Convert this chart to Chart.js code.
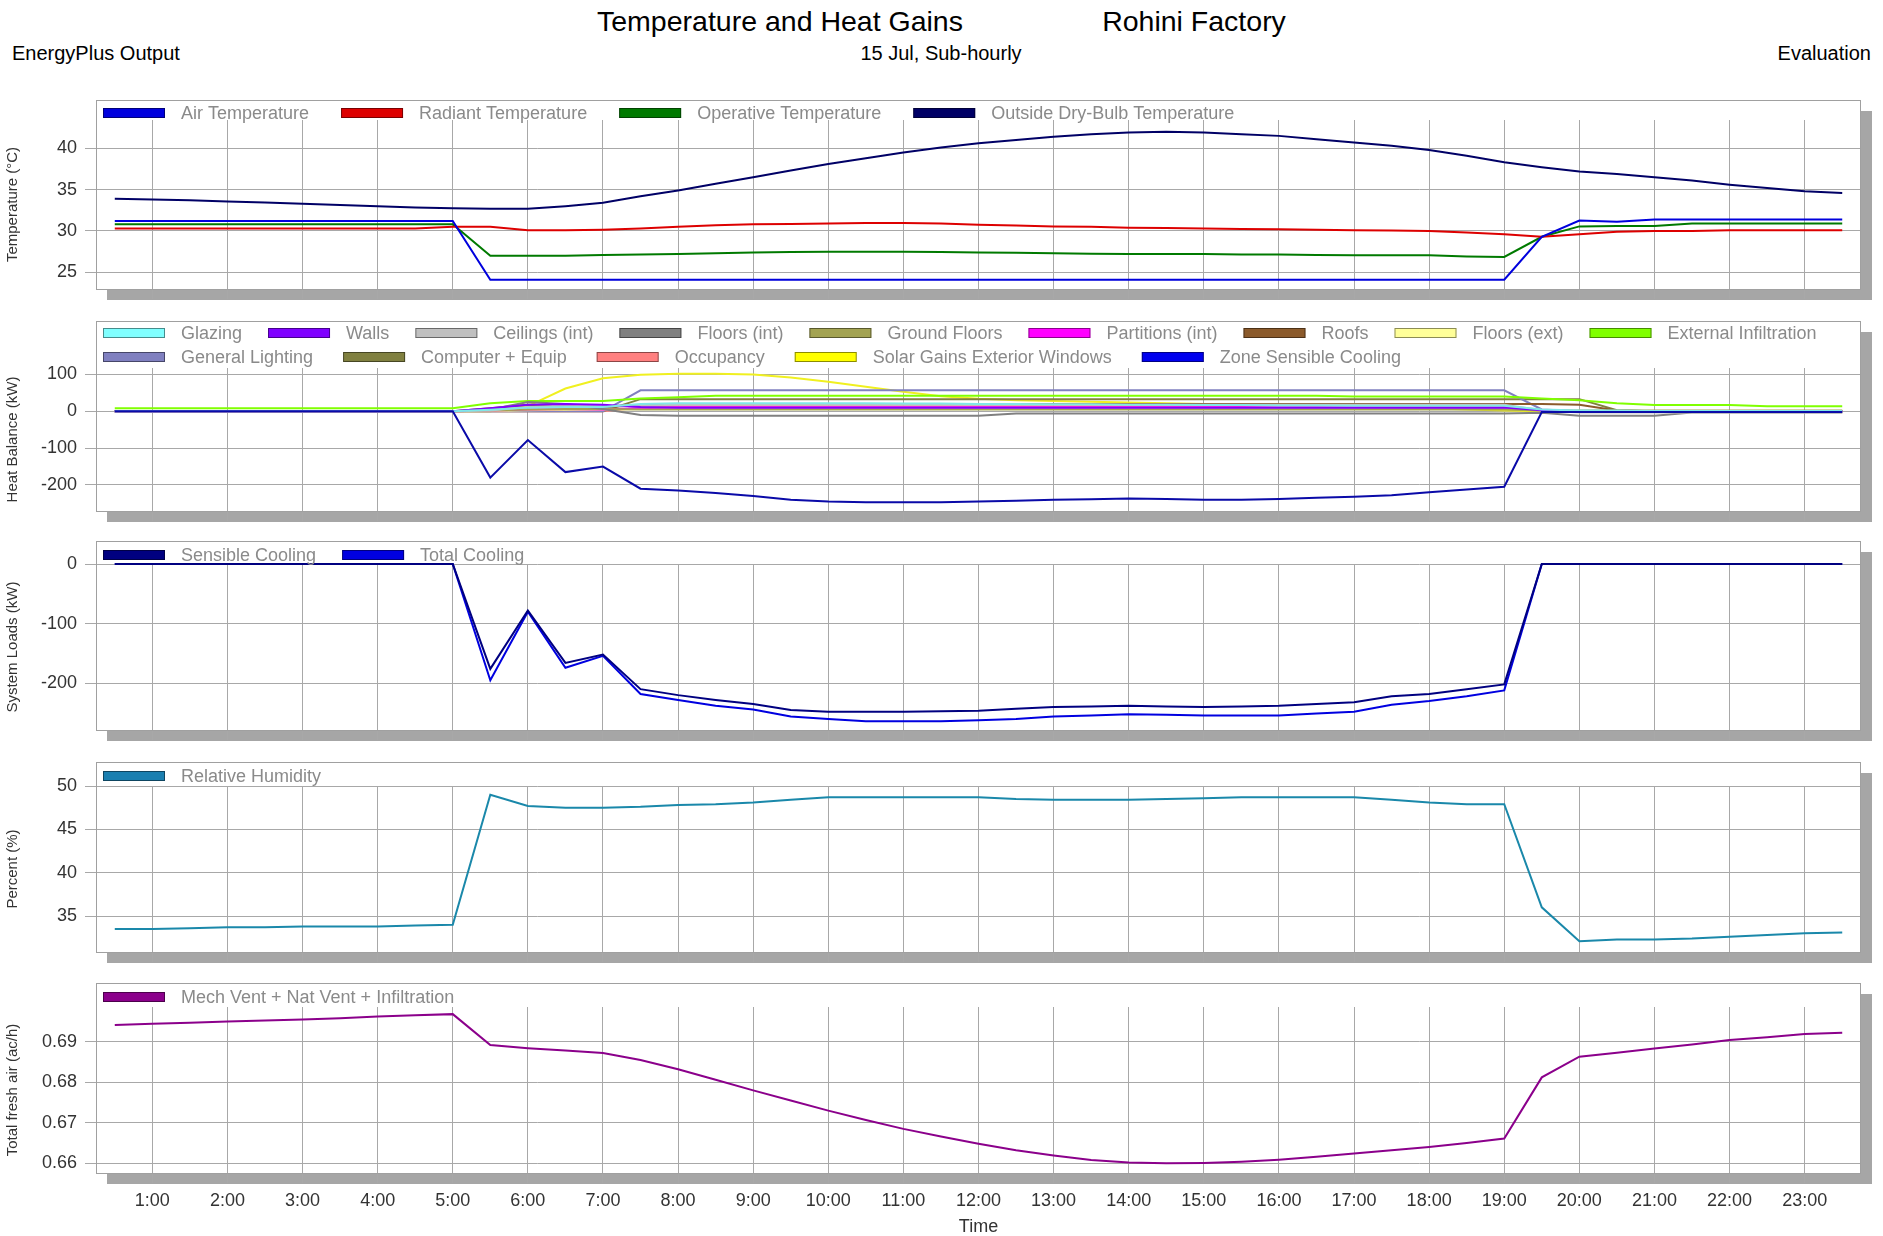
<!DOCTYPE html>
<html><head><meta charset="utf-8">
<script src="https://cdn.jsdelivr.net/npm/chart.js@4"></script>
<style>
html,body{margin:0;padding:0;background:#fff;}
body{width:1883px;height:1236px;overflow:hidden;position:relative;font-family:"Liberation Sans",Arial,sans-serif;}
.t{position:absolute;white-space:nowrap;color:#000;line-height:1;}
canvas{position:absolute;left:0;}
</style></head><body>
<div class="t" style="font-size:28.5px;left:780px;top:7px;transform:translateX(-50%)">Temperature and Heat Gains</div>
<div class="t" style="font-size:28.5px;left:1194px;top:7px;transform:translateX(-50%)">Rohini Factory</div>
<div class="t" style="font-size:20px;left:12px;top:43px;">EnergyPlus Output</div>
<div class="t" style="font-size:20px;left:941px;top:43px;transform:translateX(-50%)">15 Jul, Sub-hourly</div>
<div class="t" style="font-size:20px;right:12px;top:43px;">Evaluation</div>
<canvas id="p1"></canvas>
<canvas id="p2"></canvas>
<canvas id="p3"></canvas>
<canvas id="p4"></canvas>
<canvas id="p5"></canvas>
<script>
// ---------- DATA ----------
const hours = [0.5,1,1.5,2,2.5,3,3.5,4,4.5,5,5.5,6,6.5,7,7.5,8,8.5,9,9.5,10,10.5,11,11.5,12,12.5,13,13.5,14,14.5,15,15.5,16,16.5,17,17.5,18,18.5,19,19.5,20,20.5,21,21.5,22,22.5,23,23.5];

// Panel 1: temperatures (°C)
const airTemp = [31.2,31.2,31.2,31.2,31.2,31.2,31.2,31.2,31.2,31.2,
  24.1,24.1,24.1,24.1,24.1,24.1,24.1,24.1,24.1,24.1,24.1,24.1,24.1,24.1,24.1,24.1,24.1,24.1,24.1,24.1,24.1,24.1,24.1,24.1,24.1,24.1,24.1,24.1,
  29.3,31.25,31.1,31.4,31.4,31.4,31.4,31.4,31.4];
const radiantTemp = [30.3,30.3,30.3,30.3,30.3,30.3,30.3,30.3,30.3,30.5,
  30.5,30.1,30.1,30.15,30.3,30.5,30.7,30.8,30.85,30.9,30.95,30.95,30.9,30.75,30.65,30.55,30.5,30.4,30.35,30.3,30.25,30.2,30.15,30.1,30.05,30.0,29.8,29.6,
  29.3,29.6,29.9,30.0,30.0,30.1,30.1,30.1,30.1];
const operativeTemp = [30.8,30.8,30.8,30.8,30.8,30.8,30.8,30.8,30.8,30.8,
  27.0,27.0,27.0,27.1,27.15,27.2,27.3,27.4,27.45,27.5,27.5,27.5,27.45,27.4,27.35,27.3,27.25,27.2,27.2,27.2,27.15,27.15,27.1,27.05,27.05,27.05,26.9,26.85,
  29.3,30.55,30.6,30.6,30.9,30.9,30.9,30.9,30.9];
const outsideTemp = [33.9,33.8,33.7,33.55,33.45,33.3,33.15,33.0,32.85,32.75,
  32.7,32.7,33.0,33.4,34.2,34.9,35.7,36.5,37.3,38.1,38.8,39.5,40.1,40.6,41.0,41.4,41.7,41.9,42.0,41.9,41.7,41.5,41.1,40.7,40.3,39.8,39.1,38.3,
  37.7,37.2,36.9,36.5,36.1,35.6,35.2,34.8,34.6];

// Panel 2: heat balance (kW)
const glazing = [0,0,0,0,0,0,0,0,0,0, 4,10,12,12,20,22,22,22,22,22,22,21,21,20,20,19,19,18,18,17,17,16,16,15,15,15,15,15, 5,2,2,1,1,1,1,1,1];
const walls = [0,0,0,0,0,0,0,0,0,0, 8,18,20,18,12,10,10,10,10,10,10,10,10,10,10,10,10,10,10,10,10,10,10,10,10,10,10,10, 3,0,0,0,0,0,0,0,0];
const ceilingsInt = [0,0,0,0,0,0,0,0,0,0, 2,12,16,14,16,18,18,18,18,18,18,18,18,18,18,18,18,18,18,18,18,18,18,18,18,18,18,18, 3,-3,-3,-3,-3,-3,-3,-3,-3];
const floorsInt = [0,0,0,0,0,0,0,0,0,0, 5,25,20,6,-10,-12,-12,-12,-12,-12,-12,-12,-12,-12,-6,-6,-6,-6,-6,-6,-6,-6,-6,-6,-6,-6,-6,-6, -4,-12,-12,-12,-3,-3,-3,-3,-3];
const groundFloors = [0,0,0,0,0,0,0,0,0,0, 2,5,6,6,5,5,5,5,5,5,5,5,5,5,5,5,5,5,5,5,5,5,5,5,5,5,5,5, 2,2,2,2,2,2,2,2,2];
const partitionsInt = [0,0,0,0,0,0,0,0,0,0, 2,5,6,5,8,11,11,11,11,11,11,11,11,11,11,11,11,11,11,11,11,11,11,11,11,11,11,11, 2,0,0,0,0,0,0,0,0];
const roofs = [0,0,0,0,0,0,0,0,0,0, 8,18,14,12,16,20,20,20,20,20,20,20,20,20,20,20,20,20,20,20,20,20,20,20,20,20,20,20, 20,18,2,0,0,0,0,0,0];
const floorsExt = [0,0,0,0,0,0,0,0,0,0, 1,3,4,4,6,8,8,8,8,8,8,8,8,8,8,8,8,8,8,8,8,8,8,8,8,8,8,8, 2,0,0,0,0,0,0,0,0];
const extInfiltration = [8,8,8,8,8,8,8,8,8,8, 22,28,28,28,35,38,42,42,42,42,42,42,42,42,42,42,42,42,42,42,42,42,42,40,40,40,40,40, 35,30,22,17,17,17,14,14,14];
const generalLighting = [0,0,0,0,0,0,0,0,0,0,0,0,0,0, 57,57,57,57,57,57,57,57,57,57,57,57,57,57,57,57,57,57,57,57,57,57,57,57, 5,0,0,0,0,0,0,0,0];
const computerEquip = [0,0,0,0,0,0,0,0,0,0,0,0,0,0, 33,33,33,33,33,33,33,33,33,33,33,33,33,33,33,33,33,33,33,33,33,33,33,33,33,33, 3,0,0,0,0,0,0];
const occupancy = [0,0,0,0,0,0,0,0,0,0,0,0,0,0, 10,14,14,14,14,14,14,14,14,14,14,14,14,14,14,14,14,14,14,14,14,14,14,14, 2,0,0,0,0,0,0,0,0];
const solarGains = [0,0,0,0,0,0,0,0,0,0,0, 14,62,90,99,102,102,100,92,80,67,53,41,34,30,28,26,24,22,20,18,16,14,12,10,8,5,2, 0,0,0,0,0,0,0,0,0];
const zoneSensibleCooling = [0,0,0,0,0,0,0,0,0,0,
  -180,-78,-165,-150,-210,-215,-222,-230,-240,-245,-247,-247,-247,-245,-243,-240,-239,-237,-238,-240,-240,-238,-235,-232,-228,-220,-212,-205,
  -2,-2,-2,-2,-2,-2,-2,-2,-2];

// Panel 3: system loads (kW)
const sensibleCooling = [0,0,0,0,0,0,0,0,0,0,
  -176,-78,-166,-152,-210,-220,-228,-235,-245,-248,-248,-248,-247,-246,-243,-240,-239,-238,-239,-240,-239,-238,-235,-232,-222,-218,-210,-202,
  0,0,0,0,0,0,0,0,0];
const totalCooling = [0,0,0,0,0,0,0,0,0,0,
  -195,-80,-174,-154,-218,-228,-238,-244,-256,-260,-264,-264,-264,-262,-260,-256,-254,-252,-253,-254,-254,-254,-251,-248,-236,-230,-222,-212,
  0,0,0,0,0,0,0,0,0];

// Panel 4: relative humidity (%)
const relHumidity = [33.5,33.5,33.6,33.7,33.7,33.8,33.8,33.8,33.9,34.0,
  49.0,47.7,47.5,47.5,47.6,47.8,47.9,48.1,48.4,48.7,48.7,48.7,48.7,48.7,48.5,48.4,48.4,48.4,48.5,48.6,48.7,48.7,48.7,48.7,48.4,48.1,47.9,47.9,
  36.0,32.1,32.3,32.3,32.4,32.6,32.8,33.0,33.1];

// Panel 5: total fresh air (ac/h)
const freshAir = [0.6941,0.6944,0.6947,0.6950,0.6952,0.6955,0.6958,0.6962,0.6965,0.6968,
  0.6892,0.6884,0.6878,0.6872,0.6855,0.6832,0.6806,0.6780,0.6755,0.6730,0.6707,0.6685,0.6666,0.6648,0.6632,0.6619,0.6608,0.6602,0.6600,0.6601,0.6604,0.6609,0.6616,0.6624,0.6632,0.6640,0.6650,0.6661,
  0.6812,0.6863,0.6873,0.6883,0.6893,0.6904,0.6911,0.6919,0.6922];

const yTicks1 = {min:22.98, max:43.42, step:5};
const yTicks2 = {min:-270.7, max:117.6, step:100};
const yTicks3 = {min:-278.5, max:0, step:100};
const yTicks4 = {min:30.85, max:50, step:5};
const yTicks5 = {min:0.65761, max:0.69856, step:0.01};

// ---------- sanity ----------
[airTemp,radiantTemp,operativeTemp,outsideTemp,glazing,walls,ceilingsInt,floorsInt,groundFloors,partitionsInt,roofs,floorsExt,extInfiltration,generalLighting,computerEquip,occupancy,solarGains,zoneSensibleCooling,sensibleCooling,totalCooling,relHumidity,freshAir].forEach((a,k)=>{ if(a.length!==hours.length) throw new Error('length mismatch in array #'+k+': '+a.length); });

// ---------- RENDER ----------
const FONT = '"Liberation Sans", Arial, sans-serif';
Chart.defaults.font.family = FONT;

const framePlugin = {
  id: 'frame',
  beforeDraw(chart, args, o) {
    const {ctx, chartArea: ca} = chart;
    const T = o.boxTop, L = ca.left, R = ca.right, B = ca.bottom;
    ctx.save();
    ctx.fillStyle = '#a6a6a6';
    ctx.fillRect(L + 11, T + 11, R - L, B - T);
    ctx.fillStyle = '#ffffff';
    ctx.fillRect(L, T, R - L, B - T);
    ctx.restore();
  },
  afterDraw(chart, args, o) {
    const {ctx, chartArea: ca} = chart;
    const T = o.boxTop, L = ca.left, R = ca.right, B = ca.bottom;
    ctx.save();
    ctx.strokeStyle = '#a0a0a0'; ctx.lineWidth = 1;
    ctx.strokeRect(Math.round(L) + 0.5, Math.round(T) + 0.5, Math.round(R - L) - 1, Math.round(B - T));
    ctx.font = '18px ' + FONT;
    ctx.textBaseline = 'middle';
    const ds = chart.data.datasets;
    let idx = 0;
    o.rows.forEach((n, r) => {
      let x = L + 7;
      const y = o.legendY + r * 24;
      const gap = (o.gaps && o.gaps[r]) || 26;
      for (let k = 0; k < n; k++, idx++) {
        const d = ds[idx];
        ctx.fillStyle = d.legendFill || d.borderColor;
        ctx.fillRect(x, y - 5, 62, 10);
        ctx.strokeStyle = 'rgba(0,0,0,0.45)'; ctx.lineWidth = 1;
        ctx.strokeRect(x + 0.5, y - 4.5, 61, 9);
        ctx.fillStyle = '#8a8a8a';
        ctx.fillText(d.label, x + 78, y + 1);
        x += 78 + ctx.measureText(d.label).width + gap;
      }
    });
    ctx.restore();
  }
};

function panel(id, cfg) {
  const cv = document.getElementById(id);
  cv.width = 1883; cv.height = cfg.cH;
  cv.style.top = cfg.cTop + 'px';
  cv.style.width = '1883px'; cv.style.height = cfg.cH + 'px';
  const datasets = cfg.series.map(s => ({
    label: s.label,
    data: hours.map((h, i) => ({x: h, y: s.values[i]})),
    borderColor: s.color,
    backgroundColor: s.color,
    legendFill: s.fill || s.color,
    borderWidth: 2,
    pointRadius: 0,
    tension: 0,
    clip: 4,
    order: s.order || 0
  }));
  const showX = !!cfg.showX;
  new Chart(cv, {
    type: 'line',
    data: {datasets},
    options: {
      responsive: false, animation: false, maintainAspectRatio: false,
      events: [],
      layout: {padding: {left: 0, right: 22, top: cfg.plotTop - cfg.cTop, bottom: cfg.padB}},
      plugins: {
        legend: {display: false}, tooltip: {enabled: false},
        frame: {boxTop: cfg.boxTop - cfg.cTop, legendY: cfg.legendY - cfg.cTop, rows: cfg.rows, gaps: cfg.gaps}
      },
      scales: {
        x: {
          type: 'linear', min: 0.25, max: 23.75,
          ticks: {stepSize: 1, includeBounds: false, display: showX, autoSkip: false, maxRotation: 0,
                  callback: v => v + ':00', font: {size: 18}, color: '#333', padding: 7},
          grid: {color: '#a8a8a8', lineWidth: 1, tickLength: 10, drawTicks: true},
          border: {display: false},
          title: {display: showX, text: 'Time', font: {size: 18, lineHeight: 1}, color: '#333', padding: {top: 0, bottom: 0}},
          afterFit: s => { s.height = cfg.xH; s.paddingLeft = 0; s.paddingRight = 0; s.paddingTop = 0; s.paddingBottom = 0; }
        },
        y: {
          min: cfg.y.min, max: cfg.y.max,
          ticks: {stepSize: cfg.y.step, includeBounds: false, font: {size: 18}, color: '#333', padding: 8,
                  callback: cfg.fmt || (v => String(v))},
          grid: {color: '#a8a8a8', lineWidth: 1, tickLength: 11, drawTicks: true},
          border: {display: false},
          title: {display: true, text: cfg.yTitle, font: {size: 15}, color: '#333', padding: {top: 4, bottom: 0}},
          afterFit: s => { s.width = 96; s.paddingTop = 0; s.paddingBottom = 0; s.paddingLeft = 0; s.paddingRight = 0; }
        }
      }
    },
    plugins: [framePlugin]
  });
}

panel('p1', {cTop: 95, cH: 207, boxTop: 100, plotTop: 120, legendY: 113, xH: 12, padB: 1, rows: [4], gaps: [32],
  y: yTicks1, yTitle: 'Temperature (°C)',
  series: [
    {label: 'Air Temperature', values: airTemp, color: '#0000dd'},
    {label: 'Radiant Temperature', values: radiantTemp, color: '#dd0000'},
    {label: 'Operative Temperature', values: operativeTemp, color: '#007a00'},
    {label: 'Outside Dry-Bulb Temperature', values: outsideTemp, color: '#000066'}
  ]});

panel('p2', {cTop: 316, cH: 208, boxTop: 321, plotTop: 368, legendY: 333, xH: 12, padB: 1, rows: [9, 5], gaps: [26, 30],
  y: yTicks2, yTitle: 'Heat Balance (kW)',
  series: [
    {label: 'Glazing', values: glazing, color: '#7fe8e8', fill: '#80ffff'},
    {label: 'Walls', values: walls, color: '#7f00ff'},
    {label: 'Ceilings (int)', values: ceilingsInt, color: '#c0c0c0'},
    {label: 'Floors (int)', values: floorsInt, color: '#808080'},
    {label: 'Ground Floors', values: groundFloors, color: '#a3a352'},
    {label: 'Partitions (int)', values: partitionsInt, color: '#ff00ff'},
    {label: 'Roofs', values: roofs, color: '#8b5a2b'},
    {label: 'Floors (ext)', values: floorsExt, color: '#ffee88', fill: '#ffff99'},
    {label: 'External Infiltration', values: extInfiltration, color: '#80ff00'},
    {label: 'General Lighting', values: generalLighting, color: '#8080c0'},
    {label: 'Computer + Equip', values: computerEquip, color: '#808040'},
    {label: 'Occupancy', values: occupancy, color: '#ff8080'},
    {label: 'Solar Gains Exterior Windows', values: solarGains, color: '#f0f020', fill: '#ffff00'},
    {label: 'Zone Sensible Cooling', values: zoneSensibleCooling, color: '#0a0aa8', fill: '#0000ee', order: -1}
  ]});

panel('p3', {cTop: 536, cH: 208, boxTop: 541, plotTop: 564, legendY: 555, xH: 12, padB: 2, rows: [2],
  y: yTicks3, yTitle: 'System Loads (kW)',
  series: [
    {label: 'Sensible Cooling', values: sensibleCooling, color: '#000080'},
    {label: 'Total Cooling', values: totalCooling, color: '#0000e0'}
  ]});

panel('p4', {cTop: 757, cH: 208, boxTop: 762, plotTop: 786, legendY: 776, xH: 12, padB: 1, rows: [1],
  y: yTicks4, yTitle: 'Percent (%)',
  series: [
    {label: 'Relative Humidity', values: relHumidity, color: '#1a88aa', fill: '#1a7fb0'}
  ]});

panel('p5', {cTop: 978, cH: 258, boxTop: 983, plotTop: 1007, legendY: 997, xH: 63, padB: 0, rows: [1], showX: true,
  y: yTicks5, yTitle: 'Total fresh air (ac/h)', fmt: v => v.toFixed(2),
  series: [
    {label: 'Mech Vent + Nat Vent + Infiltration', values: freshAir, color: '#8b008b'}
  ]});
</script>
</body></html>
